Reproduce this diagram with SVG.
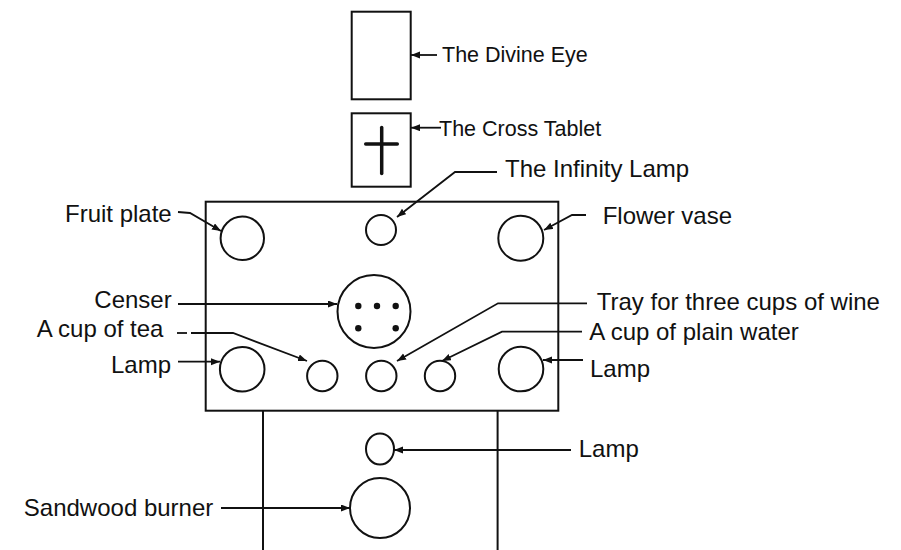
<svg xmlns="http://www.w3.org/2000/svg" width="901" height="550" viewBox="0 0 901 550">
<style>
  .shape { fill: none; stroke: #111; stroke-width: 2; }
  .dot { fill: #111; }
  .lbl { font-family: "Liberation Sans", Arial, sans-serif; font-size: 24px; fill: #111; }
  .lbl-sm { font-family: "Liberation Sans", Arial, sans-serif; font-size: 21.5px; fill: #111; }
  .conn { fill: none; stroke: #111; stroke-width: 1.8; }
  .arrow { marker-end: url(#ah); }
</style>
<defs>
  <marker id="ah" markerUnits="userSpaceOnUse" markerWidth="10" markerHeight="8" refX="9" refY="3.5" orient="auto">
    <path d="M0,0 L9,3.5 L0,7 z" fill="#111"/>
  </marker>
</defs>
<rect width="901" height="550" fill="#fff"/>

<g id="divine-eye">
  <rect class="shape" x="351.7" y="11.7" width="59" height="87.6"/>
  <text class="lbl-sm" x="442" y="62">The Divine Eye</text>
</g>

<g id="cross-tablet">
  <rect class="shape" x="351.7" y="113.3" width="59" height="73.4"/>
  <line x1="381.7" y1="127.5" x2="381.7" y2="173.5" stroke="#111" stroke-width="3.5" stroke-linecap="round"/>
  <line x1="365.7" y1="144" x2="397.3" y2="144" stroke="#111" stroke-width="3.5" stroke-linecap="round"/>
  <text class="lbl-sm" x="439" y="136">The Cross Tablet</text>
</g>

<g id="altar">
  <rect class="shape" x="205.7" y="201.7" width="352.6" height="209"/>
  <line class="shape" x1="263" y1="410.5" x2="263" y2="550"/>
  <line class="shape" x1="497.6" y1="410.5" x2="497.6" y2="550"/>
</g>

<g id="infinity-lamp">
  <circle class="shape" cx="381" cy="230" r="15"/>
  <text class="lbl" x="505" y="177">The Infinity Lamp</text>
</g>

<g id="fruit-plate">
  <circle class="shape" cx="242.3" cy="238.3" r="21.7"/>
  <text class="lbl" x="65" y="222">Fruit plate</text>
</g>

<g id="flower-vase">
  <circle class="shape" cx="520.8" cy="238.2" r="22.5"/>
  <text class="lbl" x="602.7" y="224">Flower vase</text>
</g>

<g id="censer">
  <circle class="shape" cx="374" cy="311.5" r="36.5"/>
  <circle class="dot" cx="358.3" cy="306" r="3.2"/>
  <circle class="dot" cx="377" cy="306" r="3.2"/>
  <circle class="dot" cx="395.7" cy="306" r="3.2"/>
  <circle class="dot" cx="358.3" cy="328.3" r="3.2"/>
  <circle class="dot" cx="395.7" cy="328.3" r="3.2"/>
  <text class="lbl" x="94.3" y="308.3">Censer</text>
</g>

<g id="cup-of-tea">
  <circle class="shape" cx="322.3" cy="376" r="15.2"/>
  <text class="lbl" x="36.7" y="337.3">A cup of tea</text>
</g>

<g id="tray-wine">
  <circle class="shape" cx="381.3" cy="376" r="15.2"/>
  <text class="lbl" x="596.7" y="310">Tray for three cups of wine</text>
</g>

<g id="plain-water">
  <circle class="shape" cx="440" cy="376" r="15.2"/>
  <text class="lbl" x="589.3" y="340">A cup of plain water</text>
</g>

<g id="lamp-left">
  <circle class="shape" cx="242.2" cy="369.2" r="22.3"/>
  <text class="lbl" x="111" y="373.3">Lamp</text>
</g>

<g id="lamp-right">
  <circle class="shape" cx="521" cy="369" r="22.3"/>
  <text class="lbl" x="590" y="377.3">Lamp</text>
</g>

<g id="lamp-lower">
  <ellipse class="shape" cx="380" cy="449" rx="14" ry="15.5"/>
  <text class="lbl" x="578.7" y="457">Lamp</text>
</g>

<g id="sandwood-burner">
  <circle class="shape" cx="380" cy="508" r="30"/>
  <text class="lbl" x="23.8" y="516">Sandwood burner</text>
</g>

<g id="connectors">
  <path class="conn arrow" d="M437,55 L411,55"/>
  <path class="conn arrow" d="M441,127.7 L411,127.7"/>
  <path class="conn arrow" d="M497,172 L455,172 L397,217"/>
  <path class="conn arrow" d="M178,212 L190,213 L221,231"/>
  <path class="conn arrow" d="M586,215 L572,215 L544,230"/>
  <path class="conn arrow" d="M178,304 L337,304"/>
  <path class="conn" d="M177,333 L187,333"/>
  <path class="conn arrow" d="M191,333 L233,333 L307,361"/>
  <path class="conn arrow" d="M178,361.7 L220,361.7"/>
  <path class="conn arrow" d="M587,303.3 L498,303.3 L397,361"/>
  <path class="conn arrow" d="M582,331.7 L502,331.7 L442,361"/>
  <path class="conn arrow" d="M583,360 L543,360"/>
  <path class="conn arrow" d="M571,450 L394,450"/>
  <path class="conn arrow" d="M221,508 L350,508"/>
</g>
</svg>
